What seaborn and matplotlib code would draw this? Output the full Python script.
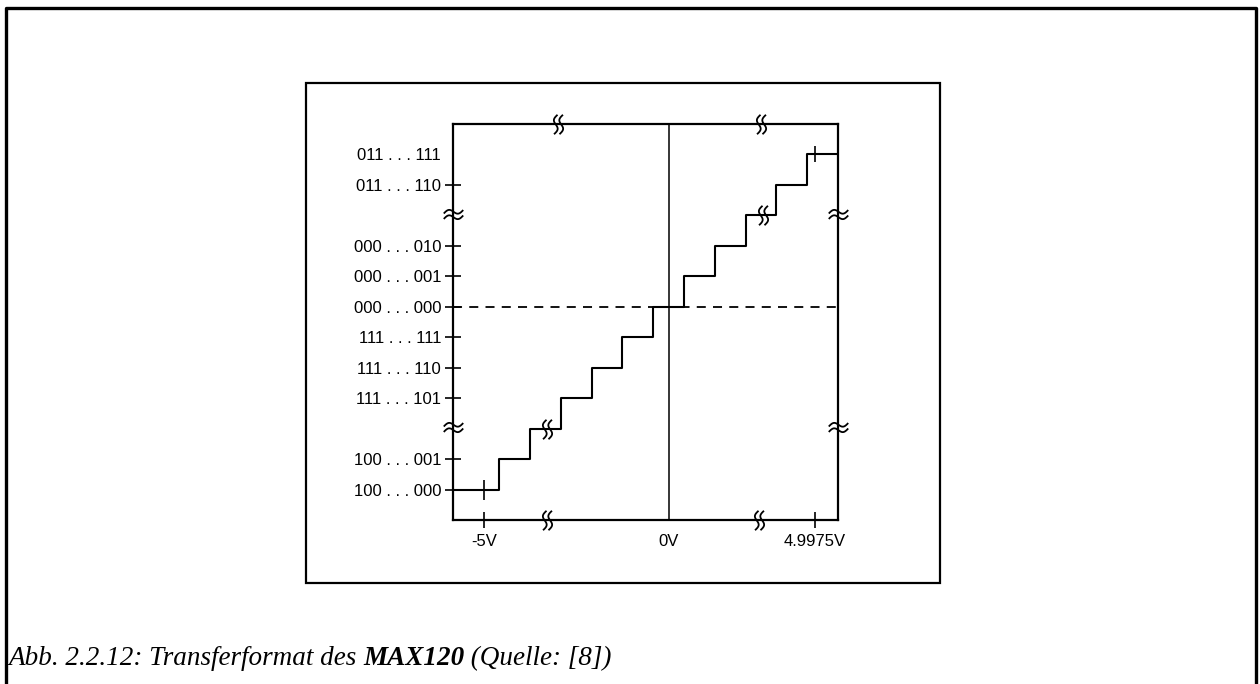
import numpy as np
import pandas as pd
import matplotlib
matplotlib.use("Agg")
import matplotlib.pyplot as plt
import seaborn as sns
from matplotlib.path import Path
from matplotlib.lines import Line2D
from matplotlib.patches import Rectangle

# --- transfer function data (x in LSB steps, y in output codes) ---
step_edges = [-7.0, -5.5, -4.5, -3.5, -2.5, -1.5, -0.5, 0.5, 1.5, 2.5, 3.5, 4.5, 5.5]
step_codes = [-6, -5, -4, -3, -2, -1, 0, 1, 2, 3, 4, 5]

code_ticks = [5, 4, 2, 1, 0, -1, -2, -3, -5, -6]
code_labels = ["011 . . . 111", "011 . . . 110", "000 . . . 010", "000 . . . 001",
               "000 . . . 000", "111 . . . 111", "111 . . . 110", "111 . . . 101",
               "100 . . . 001", "100 . . . 000"]

volt_ticks = [-6.0, 0.0, 4.75]
volt_labels = ["-5V", "0V", "4.9975V"]

caption_parts = ["Abb. 2.2.12: Transferformat des ", "MAX120", " (Quelle: [8])"]

sns.set_style("white")
label_font = ["Liberation Sans Narrow", "Liberation Sans", "DejaVu Sans"]
plt.rcParams["font.family"] = label_font
plt.rcParams["text.color"] = "black"

W, H = 1260, 684
fig = plt.figure(figsize=(W / 100, H / 100), dpi=100)

# outer page frame (open at the bottom) and inner chart box
fig.add_artist(Line2D([6 / W, 6 / W, 1256 / W, 1256 / W], [0, 1 - 8 / H, 1 - 8 / H, 0],
                      transform=fig.transFigure, color="black", lw=2.4))
fig.add_artist(Rectangle((306 / W, 1 - 583 / H), (940 - 306) / W, (583 - 83) / H,
                         transform=fig.transFigure, fill=False, ec="black", lw=1.6))

ax = fig.add_axes([453 / W, 1 - 520 / H, (838 - 453) / W, (520 - 124) / H])
ax.set_xlim(step_edges[0], step_edges[-1])
ax.set_ylim(-7, 6)

# staircase
df = pd.DataFrame({"x": step_edges, "y": step_codes + [step_codes[-1]]})
sns.lineplot(data=df, x="x", y="y", drawstyle="steps-post", color="black",
             lw=1.5, estimator=None, sort=False, ax=ax)

# zero-code reference (dashed) and 0V line
ax.axhline(0, color="black", lw=1.3, ls=(0, (5, 4)))
ax.axvline(0, color="black", lw=1.1)

for s in ax.spines.values():
    s.set_color("black")
    s.set_linewidth(1.6)

# axis ticks
ax.set_yticks(code_ticks)
ax.set_yticklabels(code_labels, fontsize=12)
ax.set_xticks(volt_ticks)
ax.set_xticklabels(volt_labels, fontsize=12)
ax.tick_params(axis="y", direction="inout", length=11, width=1.2, pad=3, left=True, colors="black")
ax.tick_params(axis="x", direction="inout", length=11, width=1.2, pad=4.5, bottom=True, colors="black")
ax.yaxis.get_major_ticks()[0].tick1line.set_visible(False)
ax.xaxis.get_major_ticks()[1].tick1line.set_visible(False)
ax.set_xlabel("")
ax.set_ylabel("")

# end-point marks on the first and last step
ax.plot([volt_ticks[0]], [step_codes[0]], marker="|", ms=14, mew=1.2, color="black", clip_on=False)
ax.plot([volt_ticks[-1]], [step_codes[-1]], marker="|", ms=11, mew=1.2, color="black", clip_on=False)


# axis-break squiggle markers
def squiggle(vertical=False):
    t = np.linspace(-1, 1, 30)
    xs = -0.28 * np.sin(np.pi * t) + 0.18 * t
    verts, codes = [], []
    for off in (-0.28, 0.28):
        pts = np.column_stack([xs + off, t])
        if vertical:
            pts = pts[:, ::-1]
        verts.extend(pts.tolist())
        codes.extend([Path.MOVETO] + [Path.LINETO] * (len(pts) - 1))
    return Path(np.array(verts), codes)


h_break = squiggle(False)
v_break = squiggle(True)
kw = dict(color="black", mfc="none", mew=1.3, ls="none", clip_on=False, zorder=5)

ax.plot([-3.6, 3.0], [6, 6], marker=h_break, ms=14, **kw)          # top border
ax.plot([-3.95, 2.95], [-7, -7], marker=h_break, ms=14, **kw)      # bottom border
ax.plot([-7, -7], [3.05, -3.95], marker=v_break, ms=14, **kw)      # left border
ax.plot([5.5, 5.5], [3.05, -3.95], marker=v_break, ms=14, **kw)    # right border
ax.plot([-3.95, 3.05], [-4, 3], marker=h_break, ms=14, **kw)       # on the staircase

# caption: italic with bold-italic part number
renderer = fig.canvas.get_renderer()
x0 = 8 / W
y0 = 1 - 665 / H
for i, part in enumerate(caption_parts):
    t = fig.text(x0, y0, part, fontsize=19.5, style="italic", color="black",
                 weight="bold" if i == 1 else "normal",
                 family=["Liberation Serif", "DejaVu Serif"], va="baseline", ha="left")
    bb = t.get_window_extent(renderer=renderer)
    x0 += bb.width / W

fig.savefig("out.png", dpi=100)
